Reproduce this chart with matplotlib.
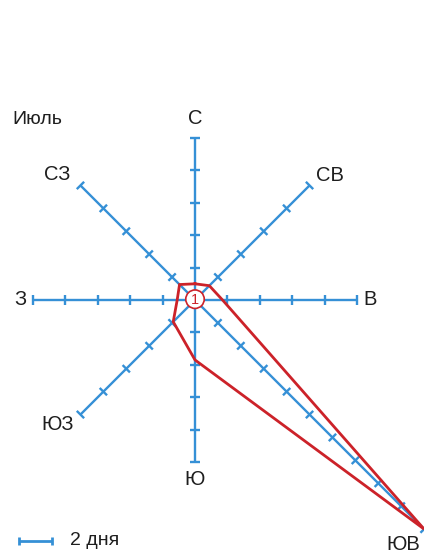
import numpy as np
import matplotlib
matplotlib.use('Agg')
import matplotlib.pyplot as plt
from matplotlib.collections import LineCollection

# роза ветров, июль
directions = ['С', 'СВ', 'В', 'ЮВ', 'Ю', 'ЮЗ', 'З', 'СЗ']
angles = [90, 45, 0, -45, -90, -135, 180, 135]
axis_days = [10, 10, 10, 20, 10, 10, 10, 10]
wind_days = [1.0, 1.25, 1.7, 20, 3.7, 1.9, 1.1, 1.35]
calm_days = 1
month = 'Июль'
scale_label = '2 дня'
tick_step = 2

BLUE = '#3590d6'
RED = '#cc2229'
TXT = '#1e1e1e'
plt.rcParams['font.family'] = ['Liberation Sans', 'DejaVu Sans']

# пиксели -> дни
px = 16.2
cx, cy = 195, 300
W, H = 424, 555

fig = plt.figure(figsize=(W / 100, H / 100), dpi=100)
ax = fig.add_axes([0, 0, 1, 1])
ax.set_xlim(-cx / px, (W - cx) / px)
ax.set_ylim(-(H - cy) / px, cy / px)
ax.axis('off')

th = np.radians(angles)
ux, uy = np.cos(th), np.sin(th)

segs = []
half = 0.32
for i in range(len(directions)):
    L = axis_days[i]
    segs.append([(0, 0), (L * ux[i], L * uy[i])])
    # поперечные штрихи через каждые 2 дня
    for k in np.arange(tick_step, L + 0.01, tick_step):
        x0, y0 = k * ux[i], k * uy[i]
        segs.append([(x0 - half * uy[i], y0 + half * ux[i]),
                     (x0 + half * uy[i], y0 - half * ux[i])])
ax.add_collection(LineCollection(segs, colors=BLUE, linewidths=1.7, capstyle='butt'))

# многоугольник розы ветров
wx = np.array(wind_days) * ux
wy = np.array(wind_days) * uy
ax.plot(np.append(wx, wx[0]), np.append(wy, wy[0]), color=RED, lw=2.0,
        solid_joinstyle='miter', zorder=3)

# штиль
circ = plt.Circle((0, 0.05), 0.57, facecolor='white', edgecolor=RED, lw=1.2, zorder=4)
ax.add_patch(circ)
ax.text(0, 0.02, str(calm_days), color=RED, fontsize=10.5, ha='center', va='center', zorder=5)

# подписи направлений
label_pos = {
    'С': (0, 11.2), 'СВ': (8.3, 7.7), 'В': (10.8, 0.05), 'ЮВ': (12.85, -15.1),
    'Ю': (0, -11.1), 'ЮЗ': (-8.5, -7.7), 'З': (-10.8, 0.05), 'СЗ': (-8.5, 7.75),
}
for d in directions:
    x, y = label_pos[d]
    ax.text(x, y, d, color=TXT, fontsize=14.5, ha='center', va='center')

ax.text(-9.75, 11.15, month, color=TXT, fontsize=14, ha='center', va='center')

# масштаб
lx0, ly = -10.85, -14.9
lx1 = lx0 + tick_step
ax.plot([lx0, lx1], [ly, ly], color=BLUE, lw=2.0, solid_capstyle='butt')
ax.plot([lx0, lx0], [ly - 0.25, ly + 0.25], color=BLUE, lw=2.0, solid_capstyle='butt')
ax.plot([lx1, lx1], [ly - 0.25, ly + 0.25], color=BLUE, lw=2.0, solid_capstyle='butt')
ax.text(-7.7, ly + 0.05, scale_label, color=TXT, fontsize=14, ha='left', va='center')

fig.savefig('out.png', dpi=100, facecolor='white')
